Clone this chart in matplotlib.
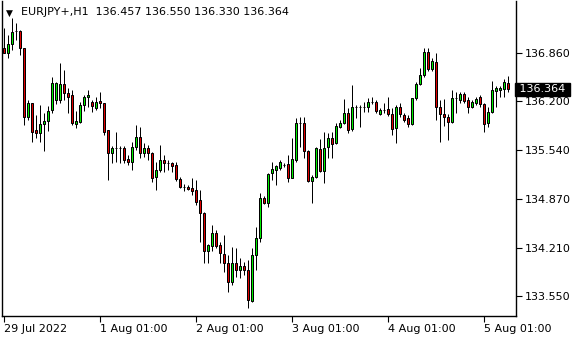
import numpy as np
import pandas as pd
import matplotlib
matplotlib.use("Agg")
import matplotlib.pyplot as plt
from matplotlib.transforms import blended_transform_factory

symbol = "EURJPY+,H1"

opens = [136.928, 136.860, 136.983, 137.159, 137.159, 136.928, 135.989, 136.179, 135.812, 135.771,
         135.894, 135.934, 136.084, 136.220, 136.220, 136.438, 136.315, 136.288, 135.894, 135.921,
         136.152, 136.261, 136.193, 136.111, 136.206, 136.179, 135.812, 135.499, 135.567, 135.567,
         135.567, 135.418, 135.376, 135.581, 135.717, 135.499, 135.567, 135.499, 135.172, 135.267,
         135.403, 135.362, 135.362, 135.335, 135.145, 135.036, 135.036, 135.022, 134.995, 134.859,
         134.682, 134.165, 134.233, 134.410, 134.247, 134.125, 134.001, 133.743, 134.001, 133.906,
         133.960, 133.906, 133.484, 134.111, 134.342, 134.886, 134.818, 135.226, 135.267, 135.294,
         135.335, 135.349, 135.158, 135.403, 135.907, 135.907, 135.526, 135.117, 135.172, 135.554,
         135.253, 135.581, 135.703, 135.635, 135.853, 135.907, 136.043, 135.826, 136.125, 136.125,
         136.125, 136.125, 136.193, 136.193, 136.030, 136.084, 136.098, 136.030, 135.839, 136.125,
         136.016, 135.975, 135.894, 136.247, 136.438, 136.560, 136.874, 136.642, 136.737, 136.125,
         136.030, 135.989, 135.921, 136.247, 136.220, 136.302, 136.220, 136.125, 136.179, 136.261,
         136.166, 135.907, 136.057, 136.342, 136.356, 136.370, 136.457]
highs = [137.200, 137.105, 137.336, 137.268, 137.173, 136.928, 136.220, 136.179, 136.016, 136.152,
         136.043, 136.138, 136.533, 136.465, 136.723, 136.628, 136.383, 136.356, 136.070, 136.193,
         136.288, 136.356, 136.220, 136.261, 136.329, 136.179, 135.812, 135.594, 135.785, 135.594,
         135.594, 135.472, 135.649, 135.880, 135.853, 135.635, 135.608, 135.513, 135.376, 135.608,
         135.472, 135.403, 135.376, 135.376, 135.172, 135.077, 135.063, 135.158, 135.131, 134.995,
         134.696, 134.261, 134.519, 134.451, 134.288, 134.383, 134.111, 134.220, 134.206, 134.070,
         134.015, 134.042, 134.206, 134.492, 134.954, 134.913, 135.226, 135.376, 135.335, 135.403,
         135.362, 135.472, 135.703, 135.975, 135.989, 135.989, 135.540, 135.199, 135.581, 135.690,
         135.785, 135.771, 135.785, 135.907, 135.948, 136.234, 136.111, 136.424, 136.152, 136.152,
         136.193, 136.247, 136.261, 136.220, 136.111, 136.179, 136.261, 136.111, 136.152, 136.179,
         136.043, 136.016, 136.247, 136.465, 136.655, 136.928, 136.928, 136.792, 136.860, 136.220,
         136.234, 136.030, 136.356, 136.329, 136.329, 136.329, 136.261, 136.220, 136.261, 136.288,
         136.179, 136.125, 136.478, 136.410, 136.410, 136.506, 136.550]
lows = [136.860, 136.792, 136.901, 137.037, 136.833, 135.880, 135.948, 135.649, 135.703, 135.649,
        135.526, 135.798, 136.043, 136.166, 136.179, 136.220, 136.043, 135.880, 135.839, 135.907,
        136.070, 136.125, 136.057, 136.084, 136.111, 135.744, 135.131, 135.362, 135.376, 135.362,
        135.362, 135.335, 135.267, 135.540, 135.431, 135.445, 135.403, 135.104, 134.995, 135.240,
        135.240, 135.267, 135.240, 135.117, 135.022, 134.981, 134.995, 134.927, 134.791, 134.288,
        134.001, 134.001, 134.165, 134.206, 134.001, 133.879, 133.607, 133.702, 133.811, 133.797,
        133.838, 133.389, 133.471, 133.906, 134.288, 134.805, 134.764, 135.131, 135.063, 135.267,
        135.308, 135.104, 135.158, 135.376, 135.581, 135.431, 135.104, 134.818, 135.158, 135.240,
        135.090, 135.431, 135.431, 135.622, 135.839, 135.894, 135.771, 135.798, 135.975, 135.853,
        136.057, 136.057, 136.166, 136.043, 136.016, 136.043, 136.002, 135.744, 135.635, 135.989,
        135.921, 135.853, 135.880, 136.220, 136.424, 136.533, 136.614, 136.614, 135.948, 135.649,
        135.866, 135.676, 135.907, 136.043, 136.179, 136.179, 136.043, 136.111, 136.152, 136.125,
        135.785, 135.853, 136.043, 136.125, 136.261, 136.261, 136.330]
closes = [136.860, 136.983, 137.146, 137.155, 136.928, 135.989, 136.179, 135.785, 135.771, 135.894,
          135.934, 136.070, 136.451, 136.451, 136.438, 136.315, 136.261, 135.907, 135.934, 136.152,
          136.261, 136.288, 136.138, 136.193, 136.179, 135.785, 135.499, 135.567, 135.565, 135.570,
          135.403, 135.376, 135.581, 135.717, 135.499, 135.567, 135.499, 135.158, 135.267, 135.403,
          135.362, 135.360, 135.321, 135.145, 135.036, 135.034, 135.009, 134.981, 134.832, 134.682,
          134.165, 134.247, 134.410, 134.233, 134.138, 134.001, 133.743, 134.001, 133.906, 133.960,
          133.906, 133.498, 134.111, 134.342, 134.886, 134.818, 135.213, 135.281, 135.321, 135.376,
          135.333, 135.158, 135.418, 135.907, 135.905, 135.526, 135.117, 135.172, 135.567, 135.253,
          135.567, 135.703, 135.622, 135.866, 135.907, 136.043, 135.812, 136.125, 136.123, 136.127,
          136.123, 136.193, 136.195, 136.070, 136.084, 136.082, 136.030, 135.826, 136.125, 136.030,
          135.948, 135.894, 136.247, 136.438, 136.560, 136.874, 136.642, 136.750, 136.125, 136.030,
          135.989, 135.921, 136.247, 136.245, 136.302, 136.206, 136.125, 136.193, 136.234, 136.166,
          135.894, 136.057, 136.356, 136.383, 136.385, 136.465, 136.364]

price_ticks = [136.860, 136.200, 135.540, 134.870, 134.210, 133.550]

# hourly bars: Friday 29 Jul from 01:00, then Monday onwards
times = list(pd.date_range("2022-07-29 01:00", periods=23, freq="h")) + \
        list(pd.date_range("2022-08-01 00:00", periods=len(opens) - 23, freq="h"))

o = np.array(opens); h = np.array(highs); l = np.array(lows); c = np.array(closes)
idx = np.arange(len(o))
up = c >= o

fig = plt.figure(figsize=(5.8, 3.4), dpi=100)
ax = fig.add_axes([2 / 580, 1 - 316 / 340, 514 / 580, 315 / 340])

# 4 px per bar, bar centres on pixel centres
ax.vlines(idx, l, h, color="black", lw=0.72, zorder=2)
ax.bar(idx, np.abs(c - o), width=0.5, bottom=np.minimum(o, c),
       color=np.where(up, "#00ee00", "#e00000"), edgecolor="black",
       linewidth=0.72, zorder=3)

ax.set_xlim(-0.375, 128.125)
ax.set_ylim(133.280, 137.567)

# time axis ticks
tpos, tlab = [0], [times[0].strftime("%d %b %Y")]
for i, t in enumerate(times):
    if i > 0 and t.hour == 1:
        tpos.append(i)
        tlab.append(f"{t.day} {t.strftime('%b')} 01:00")
ax.set_xticks(tpos)
ax.set_xticklabels(tlab, ha="left", fontsize=8)

ax.yaxis.tick_right()
ax.set_yticks(price_ticks)
ax.set_yticklabels([f"{p:.3f}" for p in price_ticks], fontsize=8)
ax.tick_params(axis="both", length=4, width=0.8, direction="out", pad=2, colors="black")

for s in ["left", "bottom", "right"]:
    ax.spines[s].set_linewidth(1.0)
ax.spines["top"].set_visible(False)

# current price label
tr = blended_transform_factory(ax.transAxes, ax.transData)
ax.text(1.0, c[-1], f" {c[-1]:.3f} ", transform=tr, ha="left", va="center",
        fontsize=8, color="white",
        bbox=dict(boxstyle="square,pad=0.12", fc="black", ec="black"))

# header
fig.text(6 / 580, 1 - 13 / 340, "\u25BC", fontsize=6.5, va="center", ha="left")
fig.text(21 / 580, 1 - 12 / 340,
         f"{symbol}  {o[-1]:.3f} {h[-1]:.3f} {l[-1]:.3f} {c[-1]:.3f}",
         fontsize=8, va="center", ha="left")

fig.savefig("out.png", dpi=100)
